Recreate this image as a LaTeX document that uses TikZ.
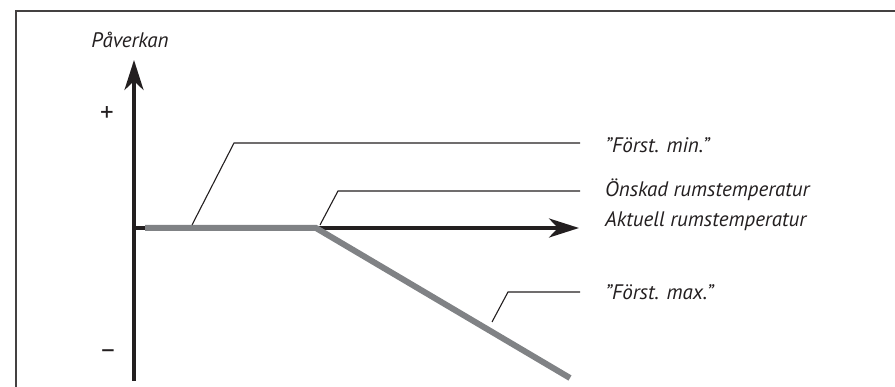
\documentclass[tikz,border=0pt]{standalone}
\usepackage{fontspec}
\setmainfont{PT Sans}
\usetikzlibrary{arrows.meta}
\definecolor{curve}{HTML}{808285}
\definecolor{ink}{HTML}{231F20}
\tikzset{
  lbl/.style={font=\itshape\fontsize{21}{25}\selectfont, text=ink, inner sep=0pt, anchor=west},
  sign/.style={font=\fontsize{27}{30}\selectfont, text=ink, inner sep=0pt},
  axis/.style={line width=3.8pt, draw=ink, -{Stealth[length=30pt,width=19pt,inset=9pt]}},
  gline/.style={line width=6pt, draw=curve},
  leader/.style={line width=1.1pt, draw=ink},
  frame/.style={line width=1.2pt, draw=ink!85}
}
\begin{document}
\begin{tikzpicture}[x=1pt,y=-1pt]
\useasboundingbox (0,0) rectangle (895,387);
\draw[frame] (16,387) -- (16,11) -- (895,11);
% axes
\coordinate (o) at (134,228);
\coordinate (ybot) at (134,381);
\coordinate (ytop) at (134,60);
\coordinate (xtip) at (579,228);
\draw[axis] (ybot) -- (ytop);
\draw[axis] (o) -- (xtip);
\node[sign] (plus) at (107,114) {+};
\node[sign] (minus) at (108,354) {\textendash};
\node[lbl, anchor=center] (pav) at (130,40) {Påverkan};
% curve
\coordinate (c0) at (145,228);
\coordinate (c1) at (316,228);
\coordinate (c2) at (570,378);
\draw[gline] (c0) -- (c1) -- (c2);
% labels
\node[lbl] (fmin) at (605,145) {”Först. min.”};
\node[lbl] (onsk) at (605,190) {Önskad rumstemperatur};
\node[lbl] (akt) at (605,221) {Aktuell rumstemperatur};
\node[lbl] (fmax) at (605,292) {”Först. max.”};
% leaders
\coordinate (l1a) at (192,225);
\coordinate (l1b) at (234,143);
\coordinate (l1c) at (580,143);
\coordinate (l2a) at (320,225);
\coordinate (l2b) at (338,191);
\coordinate (l2c) at (580,191);
\coordinate (l3a) at (492,322);
\coordinate (l3b) at (508,292);
\coordinate (l3c) at (580,292);
\draw[leader] (l1a) -- (l1b) -- (l1c);
\draw[leader] (l2a) -- (l2b) -- (l2c);
\draw[leader] (l3a) -- (l3b) -- (l3c);
\end{tikzpicture}
\end{document}
